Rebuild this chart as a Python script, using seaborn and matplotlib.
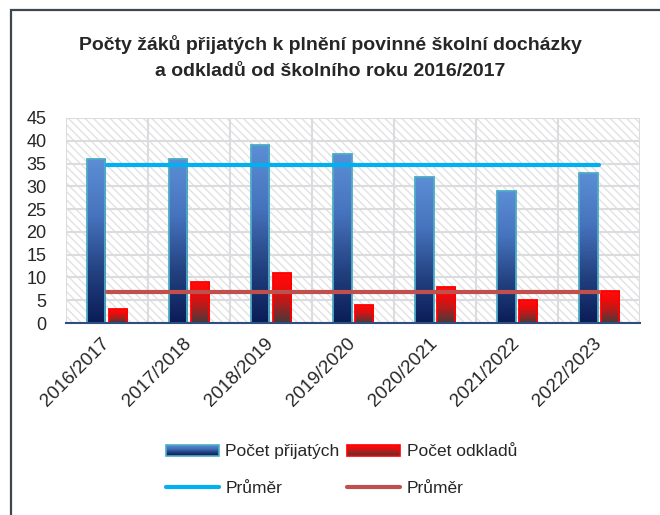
import numpy as np
import pandas as pd
import seaborn as sns
import matplotlib
matplotlib.use('Agg')
import matplotlib.pyplot as plt
import matplotlib.transforms as mtransforms
from matplotlib.patches import Rectangle
from matplotlib.lines import Line2D
from matplotlib.colors import LinearSegmentedColormap
from matplotlib.legend_handler import HandlerBase

# data
skolni_roky = ['2016/2017', '2017/2018', '2018/2019', '2019/2020',
               '2020/2021', '2021/2022', '2022/2023']
pocet_prijatych = [36, 36, 39, 37, 32, 29, 33]
pocet_odkladu = [3, 9, 11, 4, 8, 5, 7]

title_1 = 'Počty žáků přijatých k plnění povinné školní docházky'
title_2 = 'a odkladů od školního roku 2016/2017'

sns.set_style('white')
plt.rcParams['font.family'] = ['Liberation Sans', 'DejaVu Sans']
plt.rcParams['hatch.linewidth'] = 1.0

blue_cmap = LinearSegmentedColormap.from_list(
    'modra', [(0, '#0B1D58'), (0.3, '#22407F'), (0.65, '#4673BD'), (1, '#5B8ED5')])
red_cmap = LinearSegmentedColormap.from_list(
    'cervena', [(0, '#473A3A'), (0.4, '#B51C1C'), (0.75, '#F50A0A'), (1, '#FF0D0D')])


class GradientHandler(HandlerBase):
    def __init__(self, cmap, edge):
        super().__init__()
        self.cmap = cmap
        self.edge = edge

    def create_artists(self, legend, orig_handle, xdescent, ydescent,
                       width, height, fontsize, trans):
        arts = []
        n = 12
        h = height * 0.9
        y0 = -ydescent + (height - h) / 2
        for i in range(n):
            arts.append(Rectangle((-xdescent, y0 + h * i / n), width, h / n,
                                  facecolor=self.cmap(i / (n - 1)), edgecolor='none',
                                  transform=trans))
        arts.append(Rectangle((-xdescent, y0), width, h, fill=False,
                              edgecolor=self.edge, lw=1.2, transform=trans))
        return arts


df = pd.DataFrame({'rok': skolni_roky,
                   'Počet přijatých': pocet_prijatych,
                   'Počet odkladů': pocet_odkladu})
df_long = df.melt(id_vars='rok', var_name='serie', value_name='pocet')

fig = plt.figure(figsize=(6.6, 5.15), dpi=100)
ax = fig.add_axes([0.1, 0.3728, 0.87, 0.3981])

# hatched background
ax.add_patch(Rectangle((0, 0), 1, 1, transform=ax.transAxes, facecolor='white',
                       edgecolor='#E2E2E2', hatch='\\\\\\\\', lw=0, zorder=0))

sns.barplot(data=df_long, x='rok', y='pocet', hue='serie',
            palette=['#3F6DB8', '#E01010'], width=0.52, gap=0.15,
            legend=False, ax=ax, zorder=3)

for cont, cmap, edge in zip(ax.containers, [blue_cmap, red_cmap], ['#4BACC6', '#FF0000']):
    for patch in cont:
        x0, y0 = patch.get_x(), patch.get_y()
        w, h = patch.get_width(), patch.get_height()
        grad = np.linspace(0, 1, 100).reshape(-1, 1)
        im = ax.imshow(grad, extent=[x0, x0 + w, y0, y0 + h], origin='lower',
                       aspect='auto', cmap=cmap, zorder=3.5)
        im.set_clip_path(patch)
        patch.set_facecolor('none')
        patch.set_edgecolor(edge)
        patch.set_linewidth(1.3)
        patch.set_zorder(4)

x_idx = np.arange(len(skolni_roky))
prumer_prijatych = np.mean(pocet_prijatych)
prumer_odkladu = np.mean(pocet_odkladu)
ax.plot(x_idx, np.full(len(x_idx), prumer_prijatych), color='#00B0F0', lw=3, zorder=5)
ax.plot(x_idx, np.full(len(x_idx), prumer_odkladu), color='#C0504D', lw=3, zorder=5)

ax.set_xlim(-0.5, len(skolni_roky) - 0.5)
ax.set_ylim(0, 45)
ax.set_yticks(range(0, 46, 5))
ax.set_xticks(x_idx)
ax.set_xticks(np.arange(-0.5, len(skolni_roky), 1), minor=True)
ax.set_xticklabels(skolni_roky, rotation=45, ha='right', va='center',
                   rotation_mode='anchor', fontsize=13.5)
shift = mtransforms.ScaledTranslation(4 / 100, 0, fig.dpi_scale_trans)
for lbl in ax.get_xticklabels():
    lbl.set_transform(lbl.get_transform() + shift)
ax.set_xlabel('')
ax.set_ylabel('')
ax.tick_params(axis='x', which='major', length=0, pad=13)
ax.tick_params(axis='x', which='minor', length=5, width=1.5, color='#2E4E7E', direction='out')
ax.tick_params(axis='y', length=0, pad=14, labelsize=13)

ax.grid(True, axis='y', color='#DADCDF', lw=1.5, zorder=1)
ax.grid(True, axis='x', which='minor', color='#DADCDF', lw=1.5, zorder=1)
ax.grid(False, axis='x', which='major')
ax.set_axisbelow(True)
for side in ['top', 'right', 'left']:
    ax.spines[side].set_visible(False)
ax.spines['bottom'].set_color('#2E4E7E')
ax.spines['bottom'].set_linewidth(1.5)
ax.spines['bottom'].set_zorder(6)

fig.text(0.5, 1 - 45 / 515, title_1, ha='center', va='center',
         fontsize=14, fontweight='bold')
fig.text(0.5, 1 - 72 / 515, title_2, ha='center', va='center',
         fontsize=14, fontweight='bold')

# outer frame
fig.add_artist(Rectangle((11 / 660, -0.1), 2, 1 - 10 / 515 + 0.1, transform=fig.transFigure,
                         fill=False, edgecolor='#3F4650', lw=1.6))

h_prij = Rectangle((0, 0), 1, 1)
h_odk = Rectangle((0, 0), 1, 1)
h_avg1 = Line2D([], [], color='#00B0F0', lw=3, solid_capstyle='round')
h_avg2 = Line2D([], [], color='#C0504D', lw=3, solid_capstyle='round')
fig.legend([h_prij, h_avg1, h_odk, h_avg2],
           ['Počet přijatých', 'Průměr', 'Počet odkladů', 'Průměr'],
           handler_map={h_prij: GradientHandler(blue_cmap, '#4BACC6'),
                        h_odk: GradientHandler(red_cmap, '#FF0000')},
           ncol=2, loc='center', bbox_to_anchor=(0.517, 1 - 470 / 515),
           frameon=False, fontsize=12.5, handlelength=3.1, handletextpad=0.35,
           columnspacing=0.4, labelspacing=1.25)

fig.savefig('out.png', dpi=100)
